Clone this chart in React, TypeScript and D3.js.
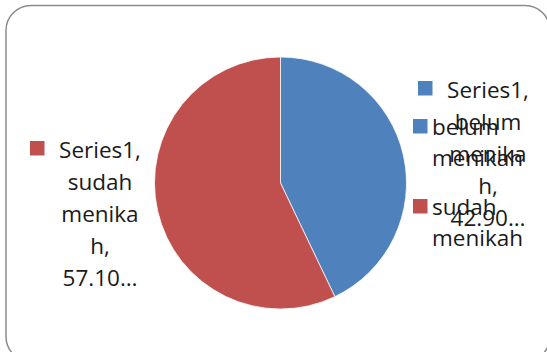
import React from "react";
import * as d3 from "d3";

const categories = ["belum menikah", "sudah menikah"];
const values = [42.9, 57.1];
const seriesName = "Series1";
const labelLines = [
  ["belum", "menika", "h,", "42.90…"],
  ["sudah", "menika", "h,", "57.10…"],
];
const colors = ["#4f81bd", "#c0504d"];

const W = 547;
const H = 352;
const FONT = "'Open Sans', 'Liberation Sans', sans-serif";
const FS = 22.5;

export default function App() {
  const cx = 280.5;
  const cy = 183;
  const r = 126;
  const pie = d3.pie<number>().sort(null).value((d) => d)(values);
  const arc = d3.arc<d3.PieArcDatum<number>>().innerRadius(0).outerRadius(r);

  // data label positions (right: blue, left: red)
  const labelPos = [
    { x: 488, y: 98, key: 418 },
    { x: 100, y: 158, key: 30 },
  ];
  const lh = 32;

  return (
    <svg
      width={W}
      height={H}
      style={{ position: "absolute", left: 0, top: 0, background: "#fff" }}
      fontFamily={FONT}
    >
      <rect x={6} y={5.5} width={544} height={356} rx={25} ry={25} fill="#fff" stroke="#8c8c8c" strokeWidth={1.5} />
      <g transform={`translate(${cx},${cy})`}>
        {pie.map((p, i) => (
          <path key={i} d={arc(p) || ""} fill={colors[i]} stroke="#fff" strokeWidth={0.75} />
        ))}
      </g>
      {labelPos.map((lp, i) => (
        <g key={i}>
          <rect x={lp.key} y={lp.y - 17} width={14.5} height={14.5} fill={colors[i]} />
          <text x={lp.x} y={lp.y} textAnchor="middle" fontSize={FS} fill="#1a1a1a">
            {seriesName + ","}
          </text>
          {labelLines[i].map((t, j) => (
            <text key={j} x={lp.x} y={lp.y + lh * (j + 1)} textAnchor="middle" fontSize={FS} fill="#1a1a1a">
              {t}
            </text>
          ))}
        </g>
      ))}
      {categories.map((c, i) => {
        const words = c.split(" ");
        const y0 = 135 + i * 80;
        return (
          <g key={c}>
            <rect x={413} y={y0 - 16} width={14.5} height={14.5} fill={colors[i]} />
            {words.map((w, j) => (
              <text key={j} x={432} y={y0 + j * 31} fontSize={FS} fill="#1a1a1a">
                {w}
              </text>
            ))}
          </g>
        );
      })}
    </svg>
  );
}
